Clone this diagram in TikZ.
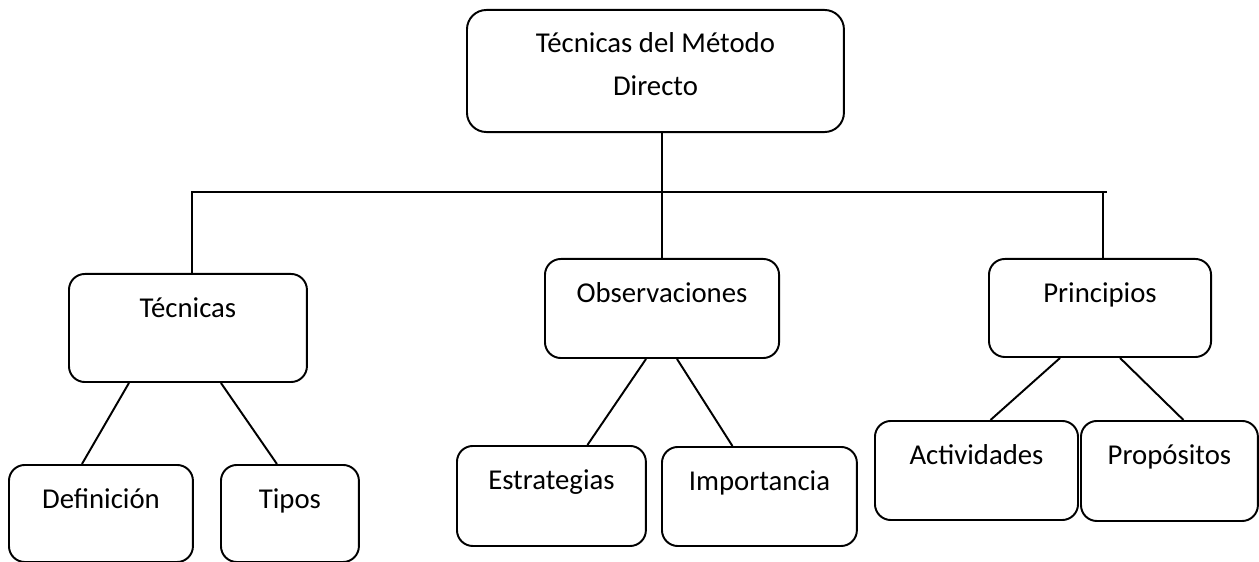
\documentclass[tikz,border=0pt]{standalone}
\usepackage{fontspec}
\setmainfont{Carlito}
\usetikzlibrary{calc}

\tikzset{
  box/.style={draw, line width=1.1pt, rounded corners=9pt, anchor=north west,
    inner sep=0pt, font=\fontsize{16.3}{20}\selectfont},
  leaf/.style={box, text height=24.4pt, text depth=#1},
  link/.style={line width=1.1pt},
}

\begin{document}
\begin{tikzpicture}[x=0.5669pt, y=-0.5669pt]
    \useasboundingbox (0, 0) rectangle (1259, 562);
    % top box
    \node[box, align=center, rounded corners=11pt, minimum width=213.7pt, minimum height=69.2pt] (metodo) at (466, 9) {Técnicas del Método\\[4.4pt]Directo\rule[-8pt]{0pt}{8pt}};
    % second row
    \node[leaf=36.85pt, minimum width=134.9pt] (tecnicas) at (68, 273) {Técnicas};
    \node[leaf=31.75pt, minimum width=132.7pt] (observ) at (544, 258) {Observaciones};
    \node[leaf=31.18pt, minimum width=125.9pt] (princ) at (988, 258) {Principios};
    % third row
    \node[leaf=30.61pt, minimum width=104.3pt] (defin) at (8, 464) {Definición};
    \node[leaf=30.61pt, minimum width=78.2pt] (tipos) at (220, 464) {Tipos};
    \node[leaf=32.31pt, minimum width=107.1pt] (estrat) at (456, 445) {Estrategias};
    \node[leaf=31.75pt, minimum width=110.5pt] (import) at (661, 446) {Importancia};
    \node[leaf=31.75pt, minimum width=115.1pt] (activ) at (874, 420) {Actividades};
    \node[leaf=32.31pt, minimum width=100.3pt] (propos) at (1080, 420) {Propósitos};

    % bus
    \coordinate (busL) at (192, 192);
    \coordinate (busR) at (1107, 192);
    \coordinate (busP) at (1103, 192);
    \draw[link] (observ.north |- metodo.south) -- (observ.north);
    \draw[link] (busL |- tecnicas.north) -- (busL) -- (busR);
    \draw[link] (busP) -- (busP |- princ.north);

    % branches
    \draw[link] ($(tecnicas.south)+(-59,0)$) -- ($(defin.north)+(-19,0)$);
    \draw[link] ($(tecnicas.south)+(33,0)$) -- ($(tipos.north)+(-13,0)$);
    \draw[link] ($(observ.south)+(-16,0)$) -- ($(estrat.north)+(36,0)$);
    \draw[link] ($(observ.south)+(15,0)$) -- ($(import.north)+(-27,0)$);
    \draw[link] ($(princ.south)+(-40,0)$) -- ($(activ.north)+(14,0)$);
    \draw[link] ($(princ.south)+(20,0)$) -- ($(propos.north)+(14,0)$);
\end{tikzpicture}
\end{document}
